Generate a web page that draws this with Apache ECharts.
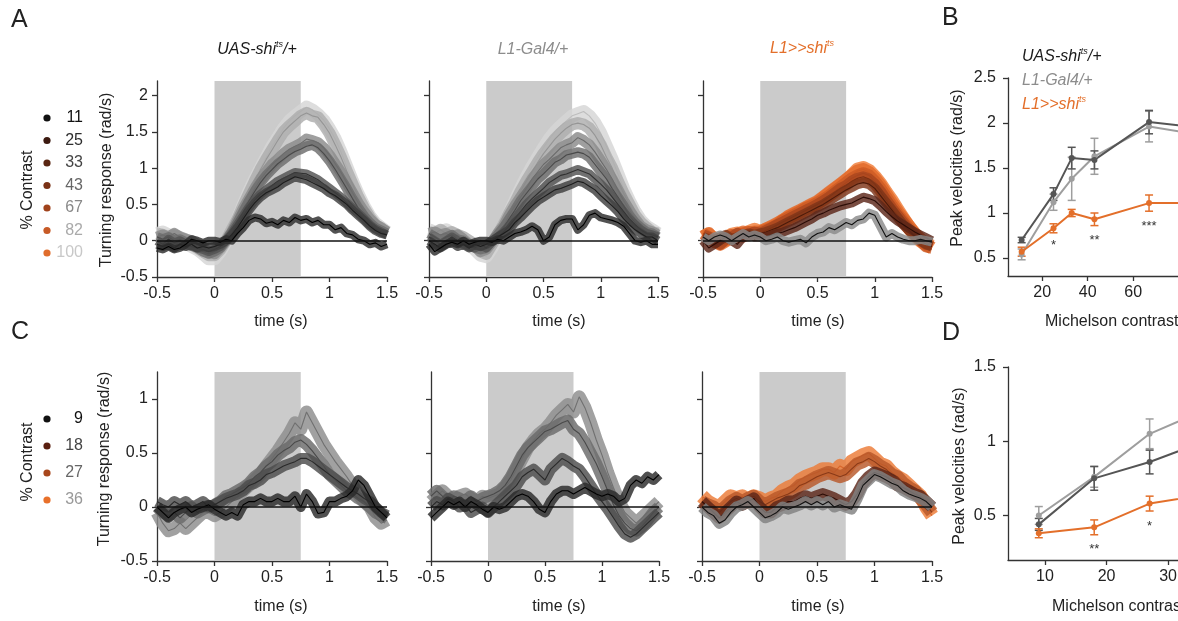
<!DOCTYPE html>
<html><head><meta charset="utf-8">
<script src="https://cdn.jsdelivr.net/npm/echarts@6/dist/echarts.min.js"></script>
<style>html,body{margin:0;padding:0;background:#fff}#c{width:1178px;height:621px}</style>
</head><body><div id="c"></div>
<script>
// ---------------- DATA ----------------
const TIME = [-0.5,-0.45,-0.4,-0.35,-0.3,-0.25,-0.2,-0.15,-0.1,-0.05,0,0.05,0.1,0.15,0.2,0.25,0.3,0.35,0.4,0.45,0.5,0.55,0.6,0.65,0.7,0.75,0.8,0.85,0.9,0.95,1,1.05,1.1,1.15,1.2,1.25,1.3,1.35,1.4,1.45,1.5];
const STIM = [0, 0.75];
const TIME_TICKS = [-0.5, 0, 0.5, 1, 1.5];
const Y_TICKS_A = [-0.5, 0, 0.5, 1, 1.5, 2];
const Y_TICKS_C = [-0.5, 0, 0.5, 1];

const contrastA = [11, 25, 33, 43, 67, 82, 100];
const contrastC = [9, 18, 27, 36];

// Panel A, UAS-shi/+
const A1_11  = [-0.10,-0.12,-0.08,-0.12,-0.10,-0.05,0.02,0.00,-0.03,0.00, 0.00,-0.02,0.02,0.00,0.10,0.18,0.28,0.32,0.30,0.24, 0.26,0.22,0.28,0.25,0.32,0.28,0.30,0.25,0.28,0.22, 0.22,0.15,0.18,0.10,0.08,0.02,0.00,-0.05,-0.03,-0.08, -0.05];
const A1_25  = [-0.05,-0.08,-0.05,-0.10,-0.05,-0.08,-0.05,-0.10,-0.08,-0.10, -0.08,-0.05,0.00,0.08,0.18,0.30,0.42,0.52,0.60,0.66, 0.70,0.74,0.80,0.84,0.88,0.86,0.84,0.80,0.76,0.72, 0.66,0.62,0.56,0.50,0.42,0.35,0.28,0.20,0.14,0.10, 0.08];
const A1_33  = [0.00,-0.05,0.02,-0.03,0.00,-0.05,-0.08,-0.10,-0.12,-0.15, -0.12,-0.08,0.00,0.10,0.22,0.34,0.46,0.56,0.64,0.70, 0.76,0.82,0.86,0.90,0.94,0.93,0.92,0.88,0.84,0.78, 0.72,0.66,0.60,0.52,0.45,0.38,0.30,0.22,0.16,0.12, 0.08];
const A1_43  = [0.05,0.02,0.05,0.00,0.02,-0.02,-0.05,-0.10,-0.15,-0.18, -0.15,-0.10,0.00,0.12,0.25,0.40,0.55,0.68,0.80,0.90, 0.98,1.06,1.12,1.18,1.23,1.26,1.30,1.32,1.28,1.20, 1.10,0.98,0.85,0.72,0.58,0.45,0.34,0.25,0.18,0.14, 0.10];
const A1_67  = [0.05,0.08,0.05,0.10,0.05,0.02,0.00,-0.05,-0.10,-0.15, -0.18,-0.10,0.00,0.12,0.28,0.44,0.58,0.72,0.85,0.95, 1.05,1.12,1.20,1.26,1.30,1.34,1.40,1.38,1.35,1.28, 1.18,1.06,0.94,0.80,0.66,0.52,0.40,0.30,0.22,0.18, 0.12];
const A1_82  = [0.10,0.08,0.05,0.08,0.05,0.02,-0.05,-0.10,-0.15,-0.20, -0.20,-0.12,0.00,0.15,0.30,0.48,0.65,0.82,0.98,1.12, 1.25,1.38,1.50,1.58,1.65,1.72,1.76,1.72,1.70,1.60, 1.48,1.32,1.15,0.96,0.78,0.60,0.45,0.32,0.22,0.16, 0.12];
const A1_100 = [0.10,0.12,0.08,0.05,0.02,-0.02,-0.08,-0.12,-0.18,-0.25, -0.25,-0.15,-0.02,0.12,0.30,0.50,0.68,0.85,1.00,1.15, 1.30,1.42,1.55,1.65,1.72,1.78,1.84,1.80,1.74,1.66, 1.54,1.40,1.22,1.02,0.82,0.64,0.48,0.34,0.24,0.18, 0.12];

// Panel A, L1-Gal4/+
const A2_11  = [-0.05,-0.15,-0.10,-0.05,-0.02,-0.05,0.00,-0.05,-0.02,0.00, 0.00,-0.02,0.02,0.00,0.05,0.10,0.12,0.15,0.20,0.15, 0.00,0.05,0.22,0.28,0.30,0.30,0.15,0.22,0.35,0.38, 0.32,0.30,0.28,0.25,0.20,0.10,0.00,-0.02,0.00,-0.05, -0.05];
const A2_25  = [0.00,-0.05,-0.10,-0.05,-0.02,-0.08,-0.05,-0.10,-0.05,-0.08, -0.05,0.00,0.05,0.10,0.15,0.25,0.32,0.40,0.48,0.55, 0.60,0.65,0.70,0.72,0.75,0.78,0.82,0.80,0.75,0.70, 0.62,0.55,0.48,0.40,0.30,0.22,0.15,0.10,0.05,0.05, 0.00];
const A2_33  = [0.05,0.00,-0.05,0.00,0.05,0.00,-0.05,-0.08,-0.10,-0.05, -0.10,-0.02,0.05,0.12,0.20,0.30,0.40,0.50,0.58,0.65, 0.72,0.80,0.85,0.90,0.92,0.95,0.98,0.95,0.92,0.85, 0.78,0.70,0.60,0.50,0.40,0.30,0.22,0.15,0.10,0.08, 0.05];
const A2_43  = [0.10,0.05,0.00,0.05,0.08,0.02,0.00,-0.05,-0.10,-0.12, -0.10,0.00,0.08,0.18,0.30,0.42,0.55,0.65,0.75,0.85, 0.92,1.00,1.08,1.12,1.18,1.20,1.22,1.20,1.15,1.05, 0.95,0.85,0.72,0.60,0.48,0.35,0.25,0.18,0.12,0.10, 0.05];
const A2_67  = [0.10,0.12,0.08,0.10,0.05,0.08,0.02,-0.05,-0.08,-0.15, -0.12,-0.02,0.10,0.20,0.35,0.48,0.60,0.72,0.85,0.95, 1.05,1.12,1.20,1.28,1.32,1.35,1.42,1.38,1.32,1.22, 1.10,0.98,0.85,0.70,0.55,0.42,0.30,0.20,0.15,0.12, 0.08];
const A2_82  = [0.12,0.10,0.15,0.10,0.12,0.08,0.05,0.00,-0.05,-0.15, -0.18,-0.05,0.08,0.22,0.38,0.52,0.68,0.82,0.95,1.08, 1.20,1.30,1.40,1.48,1.55,1.60,1.62,1.60,1.55,1.45, 1.32,1.15,1.00,0.82,0.65,0.50,0.35,0.25,0.18,0.12, 0.10];
const A2_100 = [0.15,0.12,0.10,0.15,0.10,0.05,0.00,-0.05,-0.12,-0.20, -0.22,-0.10,0.05,0.20,0.38,0.55,0.72,0.88,1.02,1.15, 1.28,1.40,1.50,1.58,1.65,1.72,1.75,1.78,1.72,1.62, 1.48,1.30,1.12,0.92,0.72,0.55,0.40,0.28,0.20,0.15, 0.10];

// Panel A, L1>>shi
const A3_11  = [0.05,0.00,0.05,0.08,0.05,0.00,0.05,0.10,0.05,0.08, 0.05,0.00,0.02,0.05,0.00,-0.02,0.00,0.02,-0.03,0.05, 0.10,0.12,0.18,0.15,0.20,0.25,0.22,0.28,0.30,0.38, 0.35,0.20,0.05,0.10,0.05,0.02,0.00,0.00,0.02,0.00, -0.02];
const A3_25  = [0.00,-0.10,-0.05,0.00,0.05,0.00,-0.05,0.05,0.08,0.05, 0.05,0.05,0.08,0.10,0.12,0.15,0.18,0.22,0.26,0.30, 0.35,0.38,0.42,0.45,0.48,0.50,0.52,0.56,0.60,0.58, 0.55,0.48,0.40,0.33,0.27,0.22,0.17,0.12,0.08,0.04, 0.00];
const A3_33  = [0.05,0.02,0.00,0.05,0.08,0.02,0.05,0.08,0.10,0.08, 0.10,0.12,0.15,0.18,0.22,0.26,0.30,0.34,0.38,0.42, 0.46,0.50,0.55,0.60,0.65,0.70,0.74,0.78,0.80,0.78, 0.72,0.62,0.52,0.42,0.32,0.22,0.14,0.06,0.00,-0.05, -0.08];
const A3_43  = [0.08,0.05,0.00,-0.05,0.02,0.05,0.10,0.05,0.08,0.12, 0.10,0.14,0.18,0.22,0.26,0.30,0.34,0.38,0.42,0.46, 0.50,0.55,0.60,0.66,0.72,0.76,0.82,0.86,0.88,0.85, 0.78,0.68,0.56,0.45,0.35,0.25,0.15,0.08,0.00,-0.05, -0.05];
const A3_67  = [0.10,0.05,-0.02,0.00,0.05,0.08,0.05,0.10,0.12,0.10, 0.12,0.15,0.18,0.22,0.28,0.32,0.36,0.40,0.45,0.48, 0.52,0.57,0.62,0.68,0.74,0.80,0.86,0.90,0.93,0.90, 0.82,0.72,0.60,0.48,0.37,0.27,0.17,0.08,0.00,-0.08, -0.10];
const A3_82  = [0.05,0.10,0.00,-0.05,0.00,0.05,0.08,0.12,0.10,0.12, 0.12,0.16,0.20,0.24,0.28,0.34,0.38,0.42,0.46,0.50, 0.54,0.60,0.66,0.72,0.78,0.84,0.90,0.96,0.98,0.94, 0.86,0.76,0.64,0.52,0.40,0.30,0.20,0.10,0.02,-0.05, -0.10];
const A3_100 = [0.05,0.08,0.02,-0.02,0.02,0.08,0.10,0.08,0.12,0.15, 0.12,0.15,0.18,0.22,0.28,0.32,0.36,0.40,0.44,0.48, 0.52,0.58,0.64,0.70,0.76,0.82,0.90,0.98,1.00,0.96, 0.88,0.78,0.66,0.55,0.42,0.30,0.18,0.08,0.00,-0.05, -0.08];

// Panel C, UAS-shi/+
const C1_9  = [0.00,-0.05,-0.10,-0.05,-0.02,0.00,-0.05,-0.02,0.00,0.02, -0.02,-0.05,-0.08,-0.05,-0.08,0.02,0.05,0.05,0.08,0.05, 0.05,0.08,0.05,0.05,0.10,0.00,0.12,0.05,-0.06,-0.05, 0.05,0.05,0.08,0.10,0.15,0.25,0.20,0.10,0.00,-0.05, -0.10];
const C1_18 = [0.05,0.02,0.00,0.05,0.02,0.05,0.00,0.02,0.05,0.00, 0.02,0.05,0.08,0.10,0.12,0.15,0.20,0.22,0.25,0.30, 0.32,0.35,0.38,0.40,0.42,0.45,0.45,0.42,0.38,0.34, 0.30,0.26,0.22,0.18,0.15,0.12,0.08,0.05,0.00,-0.05, -0.08];
const C1_27 = [0.00,-0.05,-0.08,-0.05,-0.10,-0.05,0.00,-0.05,-0.02,0.00, 0.02,0.05,0.10,0.12,0.15,0.18,0.22,0.28,0.32,0.38, 0.42,0.48,0.52,0.55,0.60,0.62,0.58,0.52,0.45,0.38, 0.30,0.25,0.20,0.15,0.12,0.08,0.05,0.00,-0.05,-0.08, -0.10];
const C1_36 = [-0.05,-0.15,-0.22,-0.20,-0.15,-0.20,-0.15,-0.10,-0.05,-0.05, -0.08,-0.05,0.00,0.05,0.10,0.15,0.20,0.25,0.30,0.38, 0.45,0.52,0.60,0.68,0.78,0.72,0.88,0.78,0.68,0.58, 0.50,0.42,0.35,0.28,0.20,0.12,0.05,0.00,-0.10,-0.15, -0.12];

// Panel C, L1-Gal4/+
const C2_9  = [-0.10,-0.05,0.00,0.05,0.02,0.05,0.00,0.05,0.02,-0.02, -0.05,0.00,-0.02,0.00,0.05,0.10,0.12,0.10,0.05,-0.02, -0.05,0.05,0.12,0.15,0.15,0.12,0.15,0.18,0.15,0.12, 0.10,0.12,0.10,0.05,0.08,0.20,0.25,0.22,0.28,0.25, 0.30];
const C2_18 = [0.00,0.05,0.02,0.08,0.05,0.00,0.02,-0.05,-0.02,0.00, -0.05,0.00,0.05,0.10,0.15,0.20,0.28,0.32,0.35,0.30, 0.25,0.35,0.40,0.45,0.42,0.38,0.35,0.28,0.20,0.12, 0.05,-0.02,-0.10,-0.18,-0.25,-0.28,-0.25,-0.20,-0.15,-0.10, -0.05];
const C2_27 = [0.10,0.15,0.10,0.05,0.10,0.08,0.05,0.10,0.05,0.08, 0.10,0.12,0.15,0.20,0.28,0.38,0.48,0.55,0.60,0.65, 0.70,0.72,0.75,0.78,0.80,0.72,0.68,0.60,0.50,0.40, 0.28,0.15,0.02,-0.08,-0.15,-0.20,-0.22,-0.18,-0.12,-0.05, 0.00];
const C2_36 = [0.05,0.10,0.15,0.10,0.05,0.10,0.12,0.08,0.05,0.10, 0.08,0.10,0.12,0.18,0.25,0.35,0.45,0.55,0.62,0.68, 0.72,0.78,0.85,0.90,0.95,0.88,1.02,0.92,0.78,0.62, 0.48,0.32,0.18,0.05,-0.05,-0.10,-0.15,-0.10,-0.05,0.00, 0.05];

// Panel C, L1>>shi
const C3_9  = [0.00,-0.05,-0.08,-0.15,-0.12,-0.05,0.00,0.02,0.05,0.00, -0.05,-0.10,-0.08,-0.05,0.00,-0.02,0.00,0.02,0.05,0.02, 0.05,0.02,0.05,0.00,0.02,0.00,-0.02,0.08,0.20,0.25, 0.30,0.28,0.25,0.22,0.20,0.15,0.12,0.10,0.08,0.05, 0.00];
const C3_18 = [0.05,0.00,-0.05,-0.10,-0.05,0.00,0.05,0.02,0.05,0.08, 0.00,-0.05,-0.05,0.00,0.02,0.05,0.05,0.08,0.10,0.08, 0.10,0.12,0.10,0.08,0.05,0.02,0.05,0.12,0.22,0.28, 0.32,0.30,0.28,0.25,0.20,0.18,0.15,0.12,0.10,0.05, 0.00];
const C3_27 = [0.05,0.02,0.00,-0.05,0.00,0.05,0.08,0.05,0.08,0.10, 0.05,0.02,0.05,0.08,0.10,0.12,0.15,0.20,0.22,0.25, 0.28,0.30,0.32,0.30,0.28,0.30,0.35,0.40,0.42,0.45, 0.42,0.38,0.35,0.30,0.28,0.22,0.18,0.15,0.08,0.02, -0.05];
const C3_36 = [0.10,0.05,0.02,0.00,0.05,0.10,0.08,0.10,0.05,0.10, 0.08,0.05,0.08,0.10,0.15,0.18,0.20,0.25,0.28,0.30, 0.32,0.35,0.35,0.32,0.38,0.35,0.42,0.45,0.48,0.50, 0.45,0.40,0.38,0.32,0.28,0.25,0.20,0.15,0.10,0.00, -0.08];

// Panel B (peak velocities vs contrast)
const contrastB = [11, 25, 33, 43, 67, 82, 100];
const uasB    = [0.70, 1.21, 1.61, 1.59, 2.01, 1.97, 1.92];
const uasBerr = [0.03, 0.07, 0.12, 0.10, 0.13, 0.10, 0.10];
const galB    = [0.54, 1.12, 1.38, 1.63, 1.96, 1.90, 1.95];
const galBerr = [0.06, 0.09, 0.24, 0.20, 0.17, 0.15, 0.15];
const shiB    = [0.57, 0.83, 1.00, 0.93, 1.11, 1.11, 1.10];
const shiBerr = [0.05, 0.05, 0.04, 0.07, 0.09, 0.08, 0.08];
const sigBx = [25, 43, 67];
const sigBy = [0.68, 0.74, 0.90];
const sigBtext = ['*', '**', '***'];
const B_X_TICKS = [20, 40, 60];
const B_Y_TICKS = [0.5, 1, 1.5, 2, 2.5];

// Panel D
const contrastD = [9, 18, 27, 36];
const uasD    = [0.44, 0.75, 0.86, 1.00];
const uasDerr = [0.04, 0.08, 0.08, 0.08];
const galD    = [0.50, 0.76, 1.05, 1.21];
const galDerr = [0.06, 0.07, 0.10, 0.10];
const shiD    = [0.38, 0.42, 0.58, 0.64];
const shiDerr = [0.03, 0.05, 0.05, 0.05];
const sigDx = [18, 27];
const sigDy = [0.30, 0.455];
const sigDtext = ['**', '*'];
const D_X_TICKS = [10, 20, 30, 40];
const D_Y_TICKS = [0.5, 1, 1.5];

// ---------------- STYLE ----------------
const FONT = "'Liberation Sans', Arial, Helvetica, sans-serif";
const INK = '#222';
const AX = '#333';
const ORANGE = '#e36f2a';

const grayStyle = [
  {band:'#2c2c2c', line:'#000', w:8}, {band:'#3e3e3e', line:'#1c1c1c', w:9}, {band:'#525252', line:'#303030', w:9},
  {band:'#6c6c6c', line:'#4a4a4a', w:10}, {band:'#8a8a8a', line:'#6a6a6a', w:11}, {band:'#adadad', line:'#959595', w:12},
  {band:'#d6d6d6', line:'#bdbdbd', w:13}];
const orangeStyle = [
  {band:'#8a8a8a', line:'#111', w:9}, {band:'#5c2618', line:'#2b0c06', w:9}, {band:'#7e3519', line:'#4a1a0a', w:10},
  {band:'#a8461e', line:'#7a2e10', w:11}, {band:'#cc5a24', line:'#a84418', w:12}, {band:'#e2692a', line:'#c4561e', w:13},
  {band:'#f07c38', line:'#e06a28', w:14}];
const grayStyleC = [{band:'#2a2a2a', line:'#000', w:10}, {band:'#4c4c4c', line:'#2a2a2a', w:11}, {band:'#6a6a6a', line:'#4a4a4a', w:12}, {band:'#8c8c8c', line:'#707070', w:13}];
const orangeStyleC = [{band:'#808080', line:'#111', w:11}, {band:'#5c2618', line:'#2b0c06', w:12}, {band:'#b8582a', line:'#8a3a18', w:13}, {band:'#ec7a36', line:'#d8652a', w:14}];

const legendDotA = ['#111', '#3c1a10', '#5a2612', '#7a3216', '#a0431c', '#c75a26', '#e06d2c'];
const legendTxtA = ['#111', '#2e2e2e', '#444', '#666', '#888', '#aaa', '#c8c8c8'];
const legendDotC = ['#111', '#5a2010', '#a8471c', '#e8702a'];
const legendTxtC = ['#111', '#444', '#666', '#999'];

// ---------------- BUILD ----------------
const toXY = arr => TIME.map((t, i) => [t, arr[i]]);
const grids = [], xAxes = [], yAxes = [], series = [], graphics = [];

function axisStyle(ticks, labelShow, margin) {
  return {
    axisLine: {show: true, onZero: false, lineStyle: {color: AX, width: 1.3}},
    axisTick: {show: true, customValues: ticks, length: 5, lineStyle: {color: AX, width: 1.3}},
    axisLabel: {show: labelShow, customValues: ticks, fontSize: 16, color: INK, fontFamily: FONT, margin: margin},
    splitLine: {show: false}
  };
}

function addGrid(g, x, y) {
  const gi = grids.length;
  grids.push(Object.assign({containLabel: false, outerBoundsMode: 'none'}, g));
  xAxes.push(Object.assign({gridIndex: gi, type: 'value'}, x));
  yAxes.push(Object.assign({gridIndex: gi, type: 'value'}, y));
  return gi;
}

function tracePanel(gi, traces, styles) {
  series.push({type: 'line', xAxisIndex: gi, yAxisIndex: gi, data: toXY(traces[0]), symbol: 'none', silent: true, z: 1,
    lineStyle: {opacity: 0},
    markArea: {silent: true, itemStyle: {color: '#cbcbcb'}, data: [[{xAxis: STIM[0]}, {xAxis: STIM[1]}]]}});
  for (let k = traces.length - 1; k >= 0; k--) {
    series.push({type: 'line', xAxisIndex: gi, yAxisIndex: gi, data: toXY(traces[k]), symbol: 'none', silent: true, z: 2,
      lineStyle: {width: styles[k].w, color: styles[k].band, opacity: 0.82, join: 'round', cap: 'butt'}});
    series.push({type: 'line', xAxisIndex: gi, yAxisIndex: gi, data: toXY(traces[k]), symbol: 'none', silent: true, z: 2,
      lineStyle: {width: 1.1, color: styles[k].line}});
  }
  series.push({type: 'line', xAxisIndex: gi, yAxisIndex: gi, data: toXY(traces[0]), symbol: 'none', silent: true, z: 3,
    lineStyle: {opacity: 0},
    markLine: {silent: true, symbol: ['none', 'none'], label: {show: false}, animation: false,
      lineStyle: {color: '#111', width: 1.6, type: 'solid'}, data: [{yAxis: 0}]}});
}

const timeX = Object.assign({min: -0.5, max: 1.5}, axisStyle(TIME_TICKS, true, 9));

// Row A
const gA1 = addGrid({left: 157, top: 81, width: 230, height: 196}, timeX, Object.assign({min: -0.5, max: 2.2}, axisStyle(Y_TICKS_A, true, 9)));
const gA2 = addGrid({left: 429, top: 81, width: 229, height: 196}, timeX, Object.assign({min: -0.5, max: 2.2}, axisStyle(Y_TICKS_A, false, 9)));
const gA3 = addGrid({left: 703, top: 81, width: 229, height: 196}, timeX, Object.assign({min: -0.5, max: 2.2}, axisStyle(Y_TICKS_A, false, 9)));
// Row C
const gC1 = addGrid({left: 157, top: 372, width: 230, height: 189}, timeX, Object.assign({min: -0.5, max: 1.25}, axisStyle(Y_TICKS_C, true, 9)));
const gC2 = addGrid({left: 431, top: 372, width: 228, height: 189}, timeX, Object.assign({min: -0.5, max: 1.25}, axisStyle(Y_TICKS_C, false, 9)));
const gC3 = addGrid({left: 702, top: 372, width: 230, height: 189}, timeX, Object.assign({min: -0.5, max: 1.25}, axisStyle(Y_TICKS_C, false, 9)));
// B and D (extend past the right edge, as in the cropped figure)
const gB = addGrid({left: 1008, top: 78, width: 227.5, height: 198},
  Object.assign({min: 5, max: 105}, axisStyle(B_X_TICKS, true, 9)),
  Object.assign({min: 0.3, max: 2.5}, axisStyle(B_Y_TICKS, true, 12)));
const gD = addGrid({left: 1008, top: 367, width: 234, height: 193},
  Object.assign({min: 4, max: 42}, axisStyle(D_X_TICKS, true, 9)),
  Object.assign({min: 0.2, max: 1.5}, axisStyle(D_Y_TICKS, true, 12)));

tracePanel(gA1, [A1_11, A1_25, A1_33, A1_43, A1_67, A1_82, A1_100], grayStyle);
tracePanel(gA2, [A2_11, A2_25, A2_33, A2_43, A2_67, A2_82, A2_100], grayStyle);
tracePanel(gA3, [A3_11, A3_25, A3_33, A3_43, A3_67, A3_82, A3_100], orangeStyle);
tracePanel(gC1, [C1_9, C1_18, C1_27, C1_36], grayStyleC);
tracePanel(gC2, [C2_9, C2_18, C2_27, C2_36], grayStyleC);
tracePanel(gC3, [C3_9, C3_18, C3_27, C3_36], orangeStyleC);

function peakPanel(gi, xs, vals, errs, color) {
  series.push({type: 'custom', xAxisIndex: gi, yAxisIndex: gi, silent: true, z: 3,
    data: xs.map((c, i) => [c, vals[i] - errs[i], vals[i] + errs[i]]),
    renderItem: (params, api) => {
      const x = api.value(0);
      const p1 = api.coord([x, api.value(1)]), p2 = api.coord([x, api.value(2)]);
      const w = 4, st = {stroke: color, lineWidth: 1.5};
      return {type: 'group', children: [
        {type: 'line', shape: {x1: p1[0], y1: p1[1], x2: p2[0], y2: p2[1]}, style: st},
        {type: 'line', shape: {x1: p1[0] - w, y1: p1[1], x2: p1[0] + w, y2: p1[1]}, style: st},
        {type: 'line', shape: {x1: p2[0] - w, y1: p2[1], x2: p2[0] + w, y2: p2[1]}, style: st}]};
    }});
  series.push({type: 'line', xAxisIndex: gi, yAxisIndex: gi, silent: true, z: 4,
    data: xs.map((c, i) => [c, vals[i]]), symbol: 'circle', symbolSize: 6,
    lineStyle: {width: 2, color: color}, itemStyle: {color: color}});
}
function sigMarks(gi, xs, ys, texts) {
  series.push({type: 'custom', xAxisIndex: gi, yAxisIndex: gi, silent: true, z: 5,
    data: xs.map((x, i) => [x, ys[i]]),
    renderItem: (params, api) => {
      const p = api.coord([api.value(0), api.value(1)]);
      return {type: 'text', x: p[0], y: p[1] + 4, style: {text: texts[params.dataIndex], fontSize: 13,
        fontFamily: FONT, fill: '#333', align: 'center', verticalAlign: 'middle'}};
    }});
}
peakPanel(gB, contrastB, galB, galBerr, '#9e9e9e');
peakPanel(gB, contrastB, uasB, uasBerr, '#555555');
peakPanel(gB, contrastB, shiB, shiBerr, ORANGE);
sigMarks(gB, sigBx, sigBy, sigBtext);
peakPanel(gD, contrastD, galD, galDerr, '#9e9e9e');
peakPanel(gD, contrastD, uasD, uasDerr, '#555555');
peakPanel(gD, contrastD, shiD, shiDerr, ORANGE);
sigMarks(gD, sigDx, sigDy, sigDtext);

// ---------------- TEXT ----------------
function txt(x, y, text, o) {
  graphics.push(Object.assign({type: 'text', x: x, y: y, silent: true,
    style: Object.assign({text: text, fontSize: 16, fontFamily: FONT, fill: INK, align: 'left', verticalAlign: 'middle'}, o || {})}, 
    (o && o.rotation !== undefined) ? {rotation: o.rotation} : {}));
}
function geno(x, y, main, sup, tail, color, align) {
  graphics.push({type: 'text', x: x, y: y, silent: true, style: {
    text: '{a|' + main + '}' + (sup ? '{s|' + sup + '}' : '') + (tail ? '{a|' + tail + '}' : ''),
    align: align, verticalAlign: 'middle',
    rich: {
      a: {fontSize: 16, fontStyle: 'italic', fontFamily: FONT, fill: color, lineHeight: 20},
      s: {fontSize: 9, fontStyle: 'italic', fontFamily: FONT, fill: color, lineHeight: 12, verticalAlign: 'top'}
    }}});
}

// panel letters
txt(11, 20, 'A', {fontSize: 25});
txt(942, 18, 'B', {fontSize: 25});
txt(11, 332, 'C', {fontSize: 25});
txt(942, 333, 'D', {fontSize: 25});

// column titles
geno(257, 50, 'UAS-shi', 'ts', '/+', '#1a1a1a', 'center');
geno(533, 50, 'L1-Gal4/+', '', '', '#8c8c8c', 'center');
geno(802, 49, 'L1>>shi', 'ts', '', ORANGE, 'center');

// legend B
geno(1022, 57, 'UAS-shi', 'ts', '/+', '#1a1a1a', 'left');
geno(1022, 81, 'L1-Gal4/+', '', '', '#8c8c8c', 'left');
geno(1022, 105, 'L1>>shi', 'ts', '', ORANGE, 'left');

// axis names
txt(107, 180, 'Turning response (rad/s)', {align: 'center', rotation: Math.PI / 2});
txt(105, 459, 'Turning response (rad/s)', {align: 'center', rotation: Math.PI / 2});
txt(958, 168, 'Peak velocities (rad/s)', {align: 'center', rotation: Math.PI / 2});
txt(960, 466, 'Peak velocities (rad/s)', {align: 'center', rotation: Math.PI / 2});
[281, 559, 818].forEach(cx => { txt(cx, 322, 'time (s)', {align: 'center'}); txt(cx, 607, 'time (s)', {align: 'center'}); });
txt(1045, 322, 'Michelson contrast (%)');
txt(1052, 607, 'Michelson contrast (%)');

// contrast legends
txt(28, 190, '% Contrast', {align: 'center', rotation: Math.PI / 2});
contrastA.forEach((c, i) => {
  const y = 118 + i * 22.5;
  graphics.push({type: 'circle', silent: true, shape: {cx: 47, cy: y, r: 3.6}, style: {fill: legendDotA[i]}});
  txt(83, y, String(c), {align: 'right', fill: legendTxtA[i]});
});
txt(28, 462, '% Contrast', {align: 'center', rotation: Math.PI / 2});
contrastC.forEach((c, i) => {
  const y = 419 + i * 27;
  graphics.push({type: 'circle', silent: true, shape: {cx: 47, cy: y, r: 3.6}, style: {fill: legendDotC[i]}});
  txt(83, y, String(c), {align: 'right', fill: legendTxtC[i]});
});

const chart = echarts.init(document.getElementById('c'), null, {renderer: 'canvas'});
chart.setOption({
  animation: false,
  backgroundColor: '#fff',
  textStyle: {fontFamily: FONT},
  grid: grids, xAxis: xAxes, yAxis: yAxes, series: series,
  graphic: {elements: graphics}
});
</script>
</body></html>
